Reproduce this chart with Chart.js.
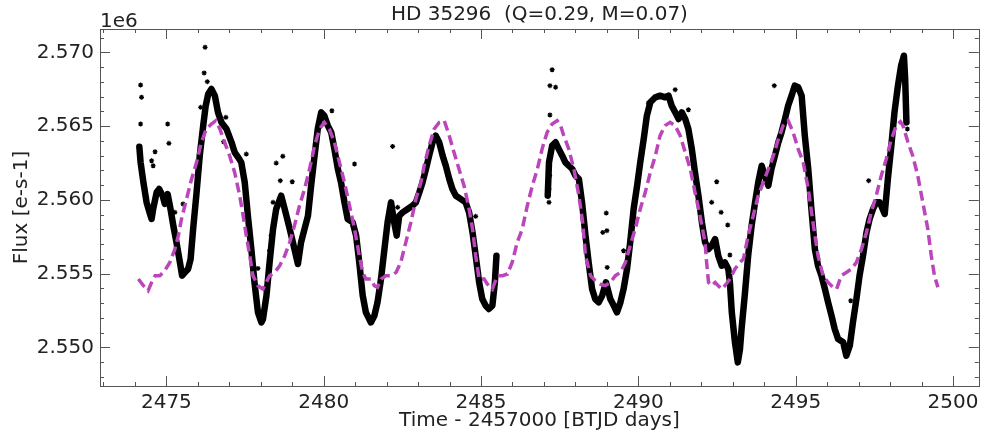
<!DOCTYPE html>
<html>
<head>
<meta charset="utf-8">
<script src="https://cdn.jsdelivr.net/npm/chart.js@4.4.1/dist/chart.umd.min.js"></script>
<style>
  html, body { margin: 0; padding: 0; background: #fff; }
</style>
</head>
<body>
<canvas id="lc" width="984" height="438"></canvas>
<script>
// light curve (black band), time in BTJD days, flux in e-/s; null marks the orbit gap
const lcTime = [
  2474.14, 2474.18, 2474.27, 2474.37, 2474.48, 2474.53, 2474.58, 2474.69, 2474.77, 2474.88,
  2474.95, 2475.04, 2475.13, 2475.22, 2475.32, 2475.43, 2475.50, 2475.59, 2475.69, 2475.77,
  2475.85, 2475.96, 2476.06, 2476.17, 2476.25, 2476.33, 2476.43, 2476.54, 2476.64, 2476.75,
  2476.91, 2477.07, 2477.17, 2477.28, 2477.38, 2477.49, 2477.59, 2477.70, 2477.80, 2477.91,
  2478.02, 2478.07, 2478.18, 2478.28, 2478.39, 2478.49, 2478.65, 2478.76, 2478.92, 2479.07,
  2479.18, 2479.28, 2479.39, 2479.50, 2479.60, 2479.71, 2479.81, 2479.92, 2480.02, 2480.13,
  2480.24, 2480.34, 2480.45, 2480.55, 2480.66, 2480.76, 2480.92, 2481.03, 2481.13, 2481.24,
  2481.34, 2481.50, 2481.61, 2481.71, 2481.82, 2481.93, 2482.03, 2482.14, 2482.24, 2482.32,
  2482.40, 2482.51, 2482.67, 2482.82, 2482.93, 2483.04, 2483.14, 2483.25, 2483.35, 2483.46,
  2483.56, 2483.67, 2483.78, 2483.88, 2483.99, 2484.09, 2484.20, 2484.36, 2484.51, 2484.62,
  2484.73, 2484.83, 2484.94, 2485.04, 2485.15, 2485.25, 2485.36, 2485.44, 2485.49,
  2486.30,
  2487.12, 2487.16, 2487.26, 2487.37, 2487.47, 2487.58, 2487.68, 2487.79, 2487.90, 2488.00,
  2488.11, 2488.21, 2488.32, 2488.42, 2488.53, 2488.63, 2488.74, 2488.85, 2488.97, 2489.11,
  2489.22, 2489.32, 2489.43, 2489.53, 2489.64, 2489.74, 2489.85, 2489.96, 2490.06, 2490.17,
  2490.27, 2490.38, 2490.54, 2490.69, 2490.85, 2490.96, 2491.06, 2491.17, 2491.28, 2491.38,
  2491.49, 2491.59, 2491.70, 2491.80, 2491.91, 2492.02, 2492.12, 2492.23, 2492.33, 2492.44,
  2492.54, 2492.65, 2492.75, 2492.86, 2492.91, 2492.97, 2493.07, 2493.16, 2493.23, 2493.28,
  2493.39, 2493.49, 2493.60, 2493.71, 2493.81, 2493.92, 2494.02, 2494.13, 2494.23, 2494.34,
  2494.45, 2494.55, 2494.66, 2494.76, 2494.87, 2494.97, 2495.08, 2495.19, 2495.29, 2495.40,
  2495.50, 2495.61, 2495.71, 2495.82, 2495.93, 2496.03, 2496.14, 2496.24, 2496.35, 2496.51,
  2496.61, 2496.72, 2496.82, 2496.93, 2497.03, 2497.14, 2497.25, 2497.35, 2497.46, 2497.56,
  2497.67, 2497.72, 2497.83, 2497.93, 2498.04, 2498.14, 2498.25, 2498.35, 2498.44, 2498.48,
  2498.52
];
const lcFlux = [
  2563600, 2562540, 2561180, 2559830, 2559040, 2558700, 2559380, 2560510, 2560730, 2560280,
  2559720, 2560390, 2559380, 2558250, 2557120, 2555760, 2554860, 2555080, 2555310, 2555990,
  2558020, 2560510, 2562990, 2565030, 2566380, 2567170, 2567510, 2567060, 2565930, 2565250,
  2564800, 2563900, 2563220, 2562880, 2562540, 2561180, 2558920, 2556660, 2554400, 2552370,
  2551690, 2551920, 2553500, 2555760, 2558020, 2559380, 2560280, 2559380, 2558020, 2556660,
  2555650, 2557120, 2558020, 2558920, 2560960, 2562990, 2564800, 2565930, 2565700, 2565030,
  2564570, 2563440, 2562090, 2561180, 2559830, 2558700, 2558470, 2557570, 2555760, 2553500,
  2552370, 2551690, 2552140, 2553050, 2554630, 2556660, 2558470, 2559830, 2558470, 2557570,
  2558920, 2559150, 2559380, 2559600, 2559830, 2560510, 2561180, 2562090, 2562990, 2563900,
  2564350, 2563900, 2562990, 2562310, 2561410, 2560730, 2560280, 2560050, 2559830, 2559150,
  2557790, 2556210, 2554400, 2553270, 2552820, 2552600, 2552820, 2554400, 2556210,
  null,
  2560280, 2562540, 2563670, 2563900, 2563440, 2562990, 2562540, 2562310, 2562090, 2561640,
  2561410, 2559830, 2557570, 2555760, 2553950, 2553270, 2553050, 2553500, 2554400, 2553270,
  2552820, 2552370, 2553050, 2553950, 2555310, 2557120, 2559380, 2560960, 2562540, 2564120,
  2565700, 2566610, 2566950, 2567060, 2566950, 2567060, 2566380, 2565930, 2565480, 2565930,
  2565480, 2564800, 2563440, 2561860, 2560280, 2558470, 2557120, 2556660, 2556890, 2557340,
  2556210, 2555530, 2555760, 2555310, 2554400, 2552370, 2550340, 2548980, 2549880, 2551240,
  2553730, 2556210, 2558250, 2559830, 2561180, 2562310, 2561640, 2560960, 2562090, 2562990,
  2563900, 2564570, 2565480, 2566380, 2567060, 2567740, 2567630, 2567060, 2564350, 2562090,
  2559380, 2556660, 2555530, 2554860, 2553950, 2553050, 2552140, 2551240, 2550560, 2550340,
  2549430, 2550110, 2551690, 2553270, 2554860, 2556210, 2557790, 2558700, 2559380, 2559830,
  2559830, 2559600, 2559040, 2561410, 2563670, 2565930, 2567740, 2569090, 2569770, 2568190,
  2565250
];

// stray points off the band
const strayTime = [
  2474.18, 2474.21, 2474.18, 2474.53, 2474.58, 2474.64, 2475.04, 2475.08, 2476.23, 2476.20,
  2476.30, 2476.09, 2476.89, 2477.54, 2475.53, 2475.27, 2477.91, 2476.82,
  2478.49, 2478.70, 2478.62, 2479.00, 2478.39, 2478.33, 2478.28, 2480.26, 2480.98, 2482.19, 2482.35,
  2487.26, 2487.19, 2487.37, 2487.19, 2484.83, 2487.16, 2487.16, 2487.18,
  2488.98, 2488.87, 2489.00, 2489.53, 2492.49, 2492.33, 2492.63, 2492.84, 2492.91, 2490.32,
  2491.59, 2491.17, 2489.01,
  2494.32, 2497.32, 2496.75, 2498.55, 2498.52
];
const strayFlux = [
  2567780, 2566950, 2565140, 2562650, 2562310, 2563260, 2565140, 2563830, 2570340, 2568600,
  2568010, 2566270, 2565590, 2563100, 2559720, 2559150, 2555350, 2563940,
  2562490, 2562950, 2561300, 2561230, 2559830, 2557570, 2556550, 2566040, 2562430, 2563620, 2559490,
  2568820, 2567740, 2567630, 2565750, 2558880, 2560730, 2559830, 2561640,
  2559100, 2557790, 2557910, 2556550, 2561230, 2559830, 2559150, 2558290, 2556260, 2566560,
  2566110, 2567470, 2555420,
  2567740, 2561300, 2553160, 2564800, 2565930
];

// model curve (magenta dashed)
const modelTime = [
  2474.11, 2474.27, 2474.42, 2474.53, 2474.64, 2474.79, 2474.95, 2475.11, 2475.27, 2475.38,
  2475.48, 2475.64, 2475.80, 2475.96, 2476.11, 2476.27, 2476.43, 2476.57, 2476.70, 2476.85,
  2477.01, 2477.17, 2477.33, 2477.44, 2477.54, 2477.65, 2477.75, 2477.91, 2478.07, 2478.12,
  2478.28, 2478.44, 2478.60, 2478.76, 2478.92, 2479.07, 2479.23, 2479.39, 2479.55, 2479.71,
  2479.87, 2480.02, 2480.18, 2480.34, 2480.50, 2480.66, 2480.82, 2480.98, 2481.13, 2481.24,
  2481.34, 2481.50, 2481.61, 2481.71, 2481.82, 2481.98, 2482.14, 2482.30, 2482.45, 2482.61,
  2482.77, 2482.93, 2483.09, 2483.19, 2483.35, 2483.51, 2483.67, 2483.83, 2483.99, 2484.14,
  2484.30, 2484.46, 2484.62, 2484.73, 2484.83, 2484.94, 2485.10, 2485.20, 2485.36, 2485.52,
  2485.68, 2485.84, 2485.99, 2486.15, 2486.31, 2486.47, 2486.63, 2486.79, 2486.94, 2487.10,
  2487.26, 2487.42, 2487.53, 2487.63, 2487.79, 2487.95, 2488.11, 2488.23, 2488.32, 2488.48,
  2488.63, 2488.79, 2488.95, 2489.11, 2489.27, 2489.43, 2489.59, 2489.74, 2489.90, 2490.06,
  2490.22, 2490.38, 2490.54, 2490.69, 2490.85, 2491.01, 2491.17, 2491.33, 2491.49, 2491.65,
  2491.80, 2491.96, 2492.12, 2492.17, 2492.23, 2492.33, 2492.44, 2492.54, 2492.65, 2492.75,
  2492.91, 2493.07, 2493.23, 2493.34, 2493.49, 2493.65, 2493.81, 2493.97, 2494.13, 2494.29,
  2494.45, 2494.60, 2494.76, 2494.92, 2495.08, 2495.24, 2495.40, 2495.55, 2495.71, 2495.87,
  2496.03, 2496.19, 2496.30, 2496.45, 2496.61, 2496.77, 2496.93, 2497.09, 2497.25, 2497.40,
  2497.56, 2497.72, 2497.88, 2498.04, 2498.20, 2498.33, 2498.41, 2498.57, 2498.72, 2498.88,
  2499.04, 2499.20, 2499.31, 2499.41, 2499.52
];
const modelFlux = [
  2554630, 2554180, 2553840, 2554400, 2554860, 2554860, 2555200, 2555760, 2556660, 2557570,
  2558700, 2560050, 2561410, 2562540, 2563900, 2564800, 2565140, 2565370, 2564800, 2563900,
  2562990, 2561860, 2560280, 2558920, 2557570, 2556210, 2554860, 2554180, 2553950, 2554180,
  2554860, 2555080, 2555530, 2556210, 2557120, 2558250, 2559600, 2560730, 2562090, 2563670,
  2564800, 2565250, 2564800, 2563900, 2562540, 2561180, 2559600, 2558020, 2556210, 2555080,
  2554630, 2554630, 2554180, 2554070, 2554630, 2554860, 2554860, 2555080, 2555760, 2557120,
  2558470, 2560050, 2561180, 2562310, 2563670, 2564800, 2565250, 2565370, 2564350, 2563220,
  2562090, 2560960, 2559380, 2558020, 2556210, 2554630, 2554630, 2554290, 2553950, 2554860,
  2554860, 2554970, 2555760, 2557120, 2558020, 2559600, 2560960, 2562090, 2563440, 2564570,
  2565140, 2565370, 2565030, 2564350, 2563440, 2562090, 2560280, 2558470, 2556210, 2554860,
  2554520, 2554290, 2554180, 2554400, 2554860, 2555080, 2555760, 2556890, 2558020, 2559380,
  2560510, 2561860, 2562990, 2564350, 2565030, 2565250, 2565030, 2564350, 2563220, 2562090,
  2560510, 2558920, 2557120, 2555760, 2554400, 2554180, 2554400, 2554180, 2553950, 2554180,
  2554630, 2555310, 2555760, 2555990, 2557570, 2558920, 2560280, 2561180, 2562090, 2562990,
  2564120, 2565030, 2565370, 2564570, 2563440, 2562540, 2560730, 2558470, 2556210, 2554860,
  2554400, 2554070, 2553950, 2554860, 2555080, 2555310, 2555760, 2556660, 2557790, 2559150,
  2560280, 2561640, 2562770, 2564120, 2565030, 2565300, 2565030, 2563900, 2562990, 2561640,
  2559830, 2558020, 2556210, 2554860, 2554070
];

const xTicks = [2475, 2480, 2485, 2490, 2495, 2500];
const yTicks = [2550000, 2555000, 2560000, 2565000, 2570000];

Chart.defaults.font.family = "'DejaVu Sans', sans-serif";
Chart.defaults.font.size = 20;
Chart.defaults.color = '#222';

const pts = (ts, fs) => ts.map((t, i) => ({ x: t, y: fs[i] }));

// inward ticks on all four sides, frame, title and offset text
const decor = {
  id: 'decor',
  afterDraw(chart) {
    const { ctx, chartArea: a, scales: { x, y } } = chart;
    ctx.save();
    ctx.strokeStyle = '#555';
    ctx.lineWidth = 1;
    ctx.beginPath();
    for (let d = 2473; d <= 2500; d++) {
      const px = Math.round(x.getPixelForValue(d)) + 0.5;
      const len = d % 5 === 0 ? 10 : 4;
      ctx.moveTo(px, a.bottom); ctx.lineTo(px, a.bottom - len);
      ctx.moveTo(px, a.top); ctx.lineTo(px, a.top + len);
    }
    for (let f = 2548000; f <= 2571000; f += 1000) {
      const py = Math.round(y.getPixelForValue(f)) + 0.5;
      const len = f % 5000 === 0 ? 10 : 4;
      ctx.moveTo(a.left, py); ctx.lineTo(a.left + len, py);
      ctx.moveTo(a.right, py); ctx.lineTo(a.right - len, py);
    }
    ctx.stroke();
    ctx.strokeRect(Math.round(a.left) + 0.5, Math.round(a.top) + 0.5,
                   Math.round(a.width), Math.round(a.height));

    ctx.fillStyle = '#222';
    ctx.font = "20px 'DejaVu Sans', sans-serif";
    ctx.textAlign = 'center';
    ctx.textBaseline = 'middle';
    ctx.fillText('HD 35296  (Q=0.29, M=0.07)', (a.left + a.right) / 2, 15);
    ctx.textAlign = 'left';
    ctx.textBaseline = 'alphabetic';
    ctx.fillText('1e6', a.left, 27);
    ctx.restore();
  }
};

new Chart(document.getElementById('lc'), {
  type: 'line',
  data: {
    datasets: [
      {
        label: 'model',
        data: pts(modelTime, modelFlux),
        borderColor: '#bb45bb',
        borderWidth: 3.5,
        borderDash: [10, 5],
        pointRadius: 0,
        fill: false,
        order: 0
      },
      {
        label: 'flux',
        data: pts(lcTime, lcFlux),
        borderColor: '#000',
        borderWidth: 6.5,
        borderJoinStyle: 'round',
        borderCapStyle: 'round',
        pointRadius: 0,
        spanGaps: false,
        fill: false,
        order: 1
      },
      {
        label: 'stray',
        type: 'scatter',
        data: pts(strayTime, strayFlux),
        pointStyle: 'star',
        pointRadius: 2.5,
        borderColor: '#000',
        backgroundColor: '#000',
        borderWidth: 1.2,
        order: 2
      }
    ]
  },
  options: {
    responsive: false,
    devicePixelRatio: 1,
    animation: false,
    layout: { padding: { top: 29, right: 4, left: 0, bottom: 0 } },
    plugins: { legend: { display: false }, tooltip: { enabled: false } },
    scales: {
      x: {
        type: 'linear',
        min: 2472.89,
        max: 2500.82,
        grid: { display: false, drawTicks: false },
        border: { display: false },
        afterBuildTicks: s => { s.ticks = xTicks.map(v => ({ value: v })); },
        afterFit: s => { s.height = 52; },
        ticks: { padding: 5, maxRotation: 0, callback: v => String(v) },
        title: { display: true, text: 'Time - 2457000 [BTJD days]', padding: { top: 0, bottom: 5 } }
      },
      y: {
        type: 'linear',
        min: 2547380,
        max: 2571580,
        grid: { display: false, drawTicks: false },
        border: { display: false },
        afterBuildTicks: s => { s.ticks = yTicks.map(v => ({ value: v })); },
        afterFit: s => { s.width = 100; },
        ticks: { padding: 6, callback: v => (v / 1e6).toFixed(3) },
        title: { display: true, text: 'Flux [e-s-1]', padding: { top: 10, bottom: 0 } }
      }
    }
  },
  plugins: [decor]
});
</script>
</body>
</html>
